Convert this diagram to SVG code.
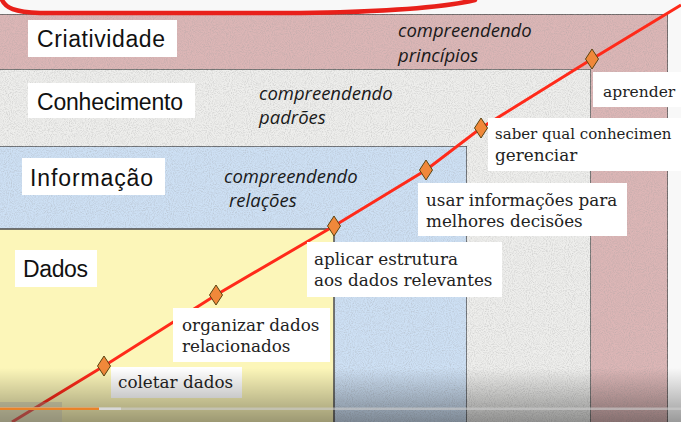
<svg xmlns="http://www.w3.org/2000/svg" width="681" height="422" viewBox="0 0 681 422">
<style>
.box{stroke:#545454;stroke-width:1.6}
.tag{fill:#ffffff}
.head{font-family:"Liberation Sans","DejaVu Sans",sans-serif;font-size:23px;fill:#111}
.it{font-family:"Open Sans","Liberation Sans",sans-serif;font-style:italic;font-size:18.5px;fill:#1a1a1a}
.lbl{font-family:"DejaVu Serif","Liberation Serif",serif;font-size:16.8px;fill:#222}
.dia{fill:#f0883a;stroke:#5a4412;stroke-width:1}
</style>
<defs>
<filter id="grain" x="0" y="0" width="100%" height="100%">
<feTurbulence type="fractalNoise" baseFrequency="0.95" numOctaves="2" seed="3" result="n"/>
<feColorMatrix in="n" type="matrix" values="0 0 0 0 0.35  0 0 0 0 0.35  0 0 0 0 0.35  0.9 0 0 0 -0.36" result="g"/>
<feComposite in="g" in2="SourceGraphic" operator="in" result="gc"/>
<feMerge><feMergeNode in="SourceGraphic"/><feMergeNode in="gc"/></feMerge>
</filter>
<linearGradient id="shade" x1="0" y1="0" x2="0" y2="1">
<stop offset="0" stop-color="#000" stop-opacity="0"/>
<stop offset="1" stop-color="#000" stop-opacity="0.38"/>
</linearGradient>
<path id="dm" d="M0,-10 L6.5,0 L0,10 L-6.5,0 Z"/>
</defs>
<rect x="0" y="0" width="681" height="422" fill="#f8f8f8"/>
<g id="criatividade">
<rect class="box" x="-2" y="14" width="670" height="412" fill="#dcb6b6" filter="url(#grain)"/>
<rect class="tag" x="28" y="20" width="149" height="37"/>
<text class="head" x="37" y="47" textLength="128">Criatividade</text>
<text class="it" x="398" y="37">compreendendo</text>
<text class="it" x="398" y="62">princípios</text>
</g>
<g id="conhecimento">
<rect class="box" x="-2" y="69" width="593" height="357" fill="#eeeeec" filter="url(#grain)"/>
<rect class="tag" x="28" y="83" width="167" height="35"/>
<text class="head" x="37" y="110" textLength="146">Conhecimento</text>
<text class="it" x="259" y="100">compreendendo</text>
<text class="it" x="259" y="124">padrões</text>
</g>
<g id="informacao">
<rect class="box" x="-2" y="146" width="469" height="280" fill="#cde0f4" filter="url(#grain)"/>
<rect class="tag" x="22" y="158" width="143" height="37"/>
<text class="head" x="30" y="186" textLength="123">Informação</text>
<text class="it" x="224" y="183">compreendendo</text>
<text class="it" x="229" y="207">relações</text>
</g>
<g id="dados">
<rect class="box" x="-2" y="229" width="336" height="197" fill="#fcf6b9"/>
<rect class="tag" x="15" y="250" width="82" height="37"/>
<text class="head" x="23" y="277" textLength="65">Dados</text>
</g>
<g id="connectors">
<polyline points="12,422 104,366 216,295 334,226 426,170 481,128 592,59 681,5" fill="none" stroke="#ff2a1a" stroke-width="3"/>
</g>
<g id="marcos">
<use href="#dm" class="dia" x="104" y="366"/>
<use href="#dm" class="dia" x="216" y="295"/>
<use href="#dm" class="dia" x="334" y="226"/>
<use href="#dm" class="dia" x="426" y="170"/>
<use href="#dm" class="dia" x="481" y="128"/>
<use href="#dm" class="dia" x="592" y="59"/>
</g>
<g id="coletar">
<rect class="tag" x="111" y="367" width="131" height="31"/>
<text class="lbl" x="118" y="388">coletar dados</text>
</g>
<g id="organizar">
<rect class="tag" x="173" y="308" width="157" height="54"/>
<text class="lbl" x="182" y="331">organizar dados</text>
<text class="lbl" x="182" y="352">relacionados</text>
</g>
<g id="aplicar">
<rect class="tag" x="307" y="242" width="195" height="55"/>
<text class="lbl" x="314" y="265">aplicar estrutura</text>
<text class="lbl" x="314" y="286">aos dados relevantes</text>
</g>
<g id="usar">
<rect class="tag" x="418" y="183" width="209" height="53"/>
<text class="lbl" x="426" y="206">usar informações para</text>
<text class="lbl" x="426" y="227">melhores decisões</text>
</g>
<g id="saber">
<rect class="tag" x="488" y="118" width="193" height="53"/>
<text class="lbl" x="495" y="139" style="font-size:15px">saber qual conhecimen</text>
<text class="lbl" x="495" y="161">gerenciar</text>
</g>
<g id="aprender">
<rect class="tag" x="593" y="72" width="88" height="35"/>
<text class="lbl" x="603" y="97" style="font-size:15.5px">aprender</text>
</g>
<path d="M2,0 C6,8 14,12 40,13 L300,13 C380,12 440,8 475,0" fill="none" stroke="#e8201a" stroke-width="4.5" stroke-linecap="round"/>
<g id="player">
<rect x="0" y="368" width="681" height="54" fill="url(#shade)"/>
<rect x="0" y="402" width="62" height="20" fill="#888" fill-opacity="0.35"/>
<rect x="0" y="407.5" width="681" height="2.5" fill="#cfcfcf" fill-opacity="0.6"/>
<rect x="0" y="407.5" width="121" height="2.5" fill="#d8d8d8"/>
<rect x="0" y="407.5" width="99" height="2.5" fill="#e8832a"/>
</g>
</svg>
